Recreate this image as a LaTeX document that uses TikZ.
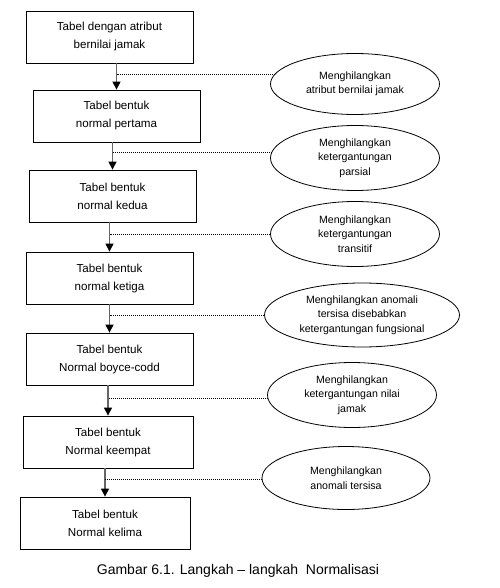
\documentclass[tikz,border=0pt]{standalone}
\usepackage{fontspec}
\setmainfont{Liberation Sans}
\usepackage{tikz}
\usetikzlibrary{positioning,arrows.meta,shapes.geometric}

\begin{document}
\begin{tikzpicture}[x=1pt, y=-1pt,
      bx/.style={rectangle, draw=black, line width=0.8pt,
                 minimum width=167pt, minimum height=52pt,
                 inner sep=0pt, align=center,
                 font=\fontsize{11.6}{18}\selectfont},
      el/.style={ellipse, draw=black, line width=0.8pt,
                 minimum width=169pt, minimum height=64pt,
                 inner sep=0pt, align=center,
                 font=\fontsize{10.6}{14.5}\selectfont},
      ar/.style={-{Triangle[length=8pt,width=8pt,color=black]},
                 draw=black!60, line width=1.2pt},
      dt/.style={black, line width=0.8pt, dash pattern=on 0.8pt off 1.2pt},
    ]
      \useasboundingbox (0,0) rectangle (499,588);
      \node[bx] (b1) at (109.5, 37) {Tabel dengan atribut\\bernilai jamak};
      \node[bx] (b2) at (116.5,116) {Tabel bentuk\\normal pertama};
      \node[bx] (b3) at (112.5,196) {Tabel bentuk\\normal kedua};
      \node[bx] (b4) at (109.5,278) {Tabel bentuk\\normal ketiga};
      \node[bx] (b5) at (109.5,359) {Tabel bentuk\\Normal boyce-codd};
      \node[bx, minimum width=170pt] (b6) at (108,442) {Tabel bentuk\\Normal keempat};
      \node[bx, minimum width=170pt] (b7) at (105,523) {Tabel bentuk\\Normal kelima};
      \node[el, minimum height=61pt] (e1) at (355, 84) {Menghilangkan\\atribut bernilai jamak};
      \node[el, minimum height=65pt] (e2) at (355,158) {Menghilangkan\\ketergantungan\\parsial};
      \node[el, minimum height=65pt] (e3) at (355,234) {Menghilangkan\\ketergantungan\\transitif};
      \node[el, minimum width=195pt] (e4) at (362,315) {Menghilangkan anomali\\tersisa disebabkan\\ketergantungan fungsional};
      \node[el, minimum height=65pt] (e5) at (352,395) {Menghilangkan\\ketergantungan nilai\\jamak};
      \node[el, minimum width=168pt, minimum height=63pt] (e6) at (346,478) {Menghilangkan\\anomali tersisa};
      \node[font=\fontsize{14}{16}\selectfont] (cap) at (238,571) {Gambar 6.1. Langkah – langkah\ \ Normalisasi};
      \draw[ar] (b1.south -| b2) -- (b2.north); \draw[ar] (b2.south -| b3) -- (b3.north);
      \draw[ar] (b3.south -| b4) -- (b4.north); \draw[ar] (b4.south -| b5) -- (b5.north);
      \draw[ar] (b5.south -| b6) -- (b6.north); \draw[ar] (b6.south -| b7) -- (b7.north);
      \draw[dt] (e1.173) -- (e1.173 -| b2); \draw[dt] (e2.176) -- (e2.176 -| b3);
      \draw[dt] (e3.west) -- (e3.west -| b4); \draw[dt] (e4.west) -- (e4.west -| b5);
      \draw[dt] (e5.182) -- (e5.182 -| b6); \draw[dt] (e6.181) -- (e6.181 -| b7);
    \end{tikzpicture}
\end{document}
